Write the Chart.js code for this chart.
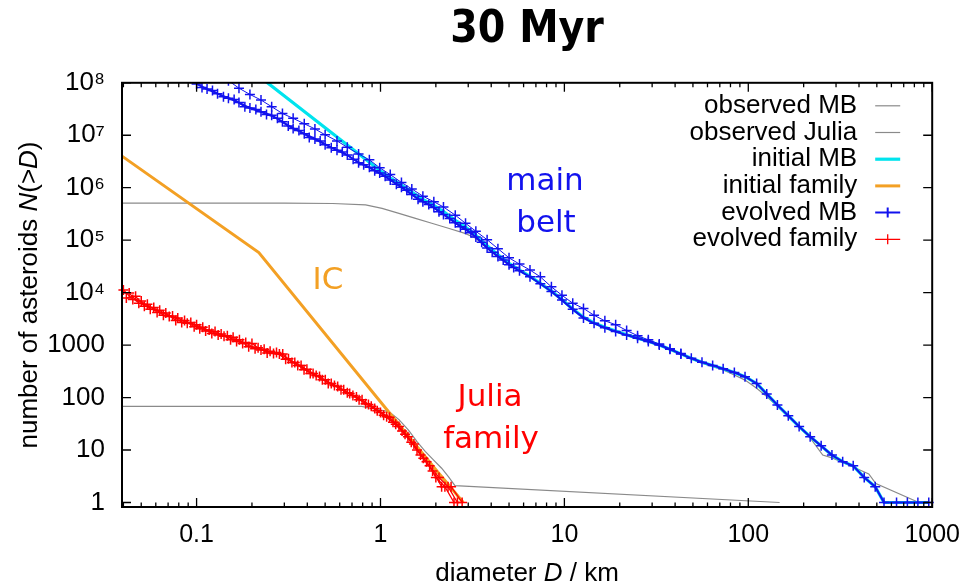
<!DOCTYPE html>
<html>
<head>
  <title>30 Myr - size distribution</title>
  <script src="https://cdn.jsdelivr.net/npm/chart.js"></script>
  <style>
    body { margin: 0; background: white; overflow: hidden; }
    #wrap { position: relative; width: 973px; height: 587px; }
  </style>
</head>
<body>
<div id="wrap"><canvas id="sfd"></canvas></div>

<script>
// axis ticks
const xTickVals = [0.1, 1, 10, 100, 1000];
const xTickLabels = ['0.1', '1', '10', '100', '1000'];
const yTickVals = [1, 10, 100, 1000, 1e4, 1e5, 1e6, 1e7, 1e8];
const yTickLabels = ['1', '10', '100', '1000', '10⁴', '10⁵', '10⁶', '10⁷', '10⁸'];

// observed main belt, N(>D)
const obsMbD = [0.0393, 0.3, 0.55, 0.83, 1.02, 1.26, 1.55, 1.9, 2.34, 2.88, 3.3, 3.8, 4.35, 5.0, 5.7,
  6.5, 7.4, 8.5, 9.7, 11.1, 12.7, 14.5, 16.6, 19, 21.8, 25, 28.6, 32.8, 37.5, 43, 49, 56, 64, 73, 84,
  96, 111, 126, 144, 165, 189, 217, 254, 288, 385, 452, 494, 847];
const obsMbN = [5.1e5, 5.1e5, 5.0e5, 4.7e5, 4.05e5, 3.25e5, 2.6e5, 2.1e5, 1.69e5, 1.35e5, 1.09e5, 7.0e4, 4.8e4, 3.4e4, 2.6e4,
  2.0e4, 1.45e4, 1.03e4, 7100, 4700, 3300, 2600, 2120, 1800, 1530, 1330, 1150, 980, 810, 660, 540, 450, 390, 335, 270,
  215, 150, 105, 68, 43, 27, 17, 8, 7, 4.5, 3.5, 2.3, 1];

// observed Julia family
const obsJuliaD = [0.0393, 0.79, 1.0, 1.11, 1.26, 1.42, 1.58, 1.75, 1.94, 2.15, 2.34, 2.54, 148];
const obsJuliaN = [68, 68, 58, 54, 38, 24, 14.5, 9.4, 6.5, 4.5, 3.1, 2.1, 1];

// initial conditions
const initMbD = [0.2, 0.99, 1.13, 1.30, 1.48, 1.70, 1.95, 2.2, 2.55, 2.9, 3.3, 3.8, 4.35, 5.0, 5.7, 6.5, 7.4,
  8.5, 9.7, 11.1, 12.7, 14.5, 16.6, 19, 21.8, 25, 28.6, 32.8, 37.5, 43, 49, 56, 64, 73, 84, 96, 111, 126,
  144, 165, 189, 217, 249, 285, 326, 372, 427, 490, 547, 958];
const initMbN = [1.7e8, 2.15e6, 1.55e6, 1.12e6, 8.3e5, 6.0e5, 4.6e5, 3.5e5, 2.4e5, 1.78e5, 1.25e5, 7.8e4, 5.3e4, 3.6e4, 2.7e4, 2.05e4, 1.5e4,
  1.07e4, 7400, 4900, 3400, 2650, 2180, 1850, 1570, 1360, 1180, 1000, 830, 680, 560, 470, 410, 355, 300, 250, 186, 117,
  72, 45, 28, 18, 12, 8, 6, 5, 3, 2, 1, 1];
const initFamD = [0.0393, 0.218, 2.0, 2.45, 2.82];
const initFamN = [4.0e6, 5.8e4, 4.2, 1.8, 1];

// evolved main belt, three runs
const evoMbD = [0.10, 0.114, 0.13, 0.149, 0.17, 0.195, 0.224, 0.256, 0.293, 0.335, 0.385, 0.44, 0.50, 0.58, 0.66,
  0.76, 0.87, 0.99, 1.13, 1.30, 1.48, 1.70, 1.95, 2.2, 2.55, 2.9, 3.3, 3.8, 4.35, 5.0, 5.7, 6.5, 7.4, 8.5, 9.7,
  11.1, 12.7, 14.5, 16.6, 19, 21.8, 25, 28.6, 32.8, 37.5, 43, 49, 56, 64, 73, 84, 96, 111, 126, 144, 165, 189,
  217, 249, 285, 326, 372, 427, 490, 547, 640, 733, 836, 958];
const evoMbN = [9.5e7, 7.6e7, 6.2e7, 5.1e7, 4.2e7, 3.3e7, 2.8e7, 2.4e7, 1.8e7, 1.35e7, 1.07e7, 8.5e6, 6.6e6, 5.2e6, 4.2e6,
  3.0e6, 2.45e6, 1.9e6, 1.41e6, 1.02e6, 7.4e5, 5.4e5, 4.2e5, 3.1e5, 2.14e5, 1.62e5, 1.15e5, 7.1e4, 4.9e4, 3.4e4, 2.6e4, 2.0e4, 1.48e4, 1.05e4, 7200,
  4800, 3300, 2600, 2140, 1820, 1550, 1350, 1170, 1000, 830, 680, 560, 470, 410, 355, 300, 250, 186, 117, 72, 45, 28,
  18, 12, 8, 6, 5, 3, 2, 1, 1, 1, 1, 1];
const evoMbBD = [0.107, 0.122, 0.14, 0.16, 0.183, 0.21, 0.24, 0.275, 0.315, 0.36, 0.41, 0.47, 0.54, 0.62, 0.71,
  0.81, 0.93, 1.06, 1.22, 1.39, 1.6, 1.83, 2.08, 2.38, 2.72, 3.1, 3.55, 4.05, 4.65, 5.3];
const evoMbBN = [8.1e7, 7.1e7, 5.4e7, 4.8e7, 3.5e7, 3.1e7, 2.5e7, 2.1e7, 1.5e7, 1.23e7, 9.1e6, 7.8e6, 5.8e6, 4.8e6, 3.5e6,
  2.75e6, 2.1e6, 1.66e6, 1.17e6, 8.9e5, 6.0e5, 4.8e5, 3.5e5, 2.6e5, 1.8e5, 1.38e5, 9.1e4, 5.9e4, 4.2e4, 3.0e4];
const evoMbCD = [0.149, 0.17, 0.195, 0.224, 0.256, 0.293, 0.335, 0.385, 0.44, 0.50, 0.58, 0.66, 0.76, 0.87, 0.99,
  1.13, 1.30, 1.48, 1.70, 1.95, 2.2, 2.55, 2.9, 3.3, 3.8, 4.35, 5.0, 5.7, 6.5, 7.4, 8.5, 9.7, 11.1, 12.7, 14.5,
  16.6, 19, 21.8, 25, 28.6, 32.8, 37.5, 43];
const evoMbCN = [1.1e8, 7.9e7, 6.0e7, 4.7e7, 3.5e7, 2.6e7, 2.1e7, 1.66e7, 1.32e7, 1.02e7, 7.8e6, 5.9e6, 4.4e6, 3.4e6, 2.4e6,
  1.78e6, 1.26e6, 9.5e5, 6.9e5, 5.4e5, 4.3e5, 3.0e5, 2.1e5, 1.48e5, 1.02e5, 6.9e4, 4.6e4, 3.5e4, 2.7e4, 2.0e4, 1.29e4, 8900, 6300, 5000, 3700,
  2900, 2450, 1900, 1510, 1260, 1050, 850, 690];

// evolved Julia family, three runs
const famAD = [0.040, 0.045, 0.050, 0.056, 0.063, 0.071, 0.079, 0.089, 0.100, 0.112, 0.126, 0.141, 0.158, 0.178, 0.200,
  0.224, 0.251, 0.282, 0.316, 0.355, 0.398, 0.447, 0.501, 0.562, 0.631, 0.708, 0.794, 0.891, 1.00, 1.12, 1.26, 1.41,
  1.58, 1.78, 2.00, 2.24, 2.51];
const famAN = [11200, 7400, 6900, 4800, 4600, 3500, 3300, 2600, 2450, 1860, 1820, 1480, 1410, 1070, 1070,
  810, 760, 676, 550, 407, 347, 263, 219, 170, 141, 110, 91, 68, 52, 42, 28, 18,
  10, 6, 3, 2, 1];
const famBD = [0.0415, 0.0466, 0.052, 0.0585, 0.066, 0.074, 0.083, 0.093, 0.104, 0.117, 0.131, 0.147, 0.165, 0.185, 0.208,
  0.233, 0.262, 0.294, 0.33, 0.37, 0.415, 0.466, 0.52, 0.585, 0.66, 0.74, 0.83, 0.93, 1.04, 1.17, 1.31, 1.47,
  1.65, 1.85, 2.08, 2.33, 2.62];
const famBN = [7900, 8500, 5500, 5200, 3700, 3600, 2700, 2700, 2040, 1950, 1550, 1510, 1170, 1120, 850,
  830, 690, 676, 468, 407, 288, 251, 186, 162, 123, 102, 76, 62, 46, 34, 23, 14,
  8, 5, 3, 2, 1];
const famCD = [0.043, 0.0485, 0.054, 0.061, 0.068, 0.077, 0.086, 0.097, 0.108, 0.121, 0.136, 0.153, 0.171, 0.192, 0.216,
  0.242, 0.272, 0.305, 0.342, 0.384, 0.43, 0.483, 0.54, 0.61, 0.68, 0.765, 0.86, 0.96, 1.08, 1.21, 1.36, 1.52,
  1.71, 1.92, 2.15, 2.42, 2.78];
const famCN = [9800, 6300, 6000, 4200, 4100, 2950, 2950, 2240, 2190, 1660, 1620, 1260, 1260, 930, 890,
  710, 725, 537, 468, 339, 288, 219, 186, 141, 120, 91, 74, 56, 43, 31, 20, 13,
  7, 4, 2, 2, 1];

const GREY = '#8a8a8a', CYAN = '#00e4ee', ORANGE = '#f3a024', BLUE = '#1212ee', RED = '#ff0000';
const SANS = '"Liberation Sans", Arial, sans-serif';
const clipBox = { left: 6, top: 0, right: 6, bottom: 6 };

function pts(xs, ys) {
  return xs.map((x, i) => ({ x: x, y: ys[i] }));
}

function plain(label, xs, ys, color, width, order) {
  return { label, data: pts(xs, ys), borderColor: color, borderWidth: width,
    pointRadius: 0, order, clip: clipBox };
}

function marked(label, xs, ys, color, width, order) {
  return { label, data: pts(xs, ys), borderColor: color, borderWidth: width,
    pointStyle: 'cross', pointRadius: 5, pointBorderWidth: 1.5, pointBorderColor: color,
    order, clip: clipBox };
}

// inward ticks on all four sides plus the frame
const frame = {
  id: 'frame',
  afterDatasetsDraw(chart) {
    const { ctx, chartArea: a, scales: { x, y } } = chart;
    ctx.save();
    ctx.strokeStyle = '#000';
    ctx.lineWidth = 1.3;
    ctx.beginPath();
    xTickVals.forEach(v => {
      const px = x.getPixelForValue(v);
      ctx.moveTo(px, a.bottom); ctx.lineTo(px, a.bottom - 9);
      ctx.moveTo(px, a.top); ctx.lineTo(px, a.top + 9);
    });
    for (let d = 0.01; d < 1000; d *= 10) {
      for (let k = 2; k < 10; k++) {
        const v = k * d;
        if (v < x.min || v > x.max) continue;
        const px = x.getPixelForValue(v);
        ctx.moveTo(px, a.bottom); ctx.lineTo(px, a.bottom - 4.5);
        ctx.moveTo(px, a.top); ctx.lineTo(px, a.top + 4.5);
      }
    }
    yTickVals.forEach(v => {
      const py = y.getPixelForValue(v);
      ctx.moveTo(a.left, py); ctx.lineTo(a.left + 9, py);
      ctx.moveTo(a.right, py); ctx.lineTo(a.right - 9, py);
    });
    ctx.stroke();
    ctx.lineWidth = 2;
    ctx.strokeRect(a.left, a.top, a.right - a.left, a.bottom - a.top);
    ctx.restore();
  }
};

function drawMixed(ctx, parts, cx, cy) {
  const fonts = parts.map(p => (p[1] ? 'italic ' : '') + '26px ' + SANS);
  let total = 0;
  const widths = parts.map((p, i) => {
    ctx.font = fonts[i];
    const w = ctx.measureText(p[0]).width;
    total += w;
    return w;
  });
  let xx = cx - total / 2;
  parts.forEach((p, i) => {
    ctx.font = fonts[i];
    ctx.fillText(p[0], xx, cy);
    xx += widths[i];
  });
}

// axis titles, key and the labels inside the plot
const texts = {
  id: 'texts',
  afterDraw(chart) {
    const { ctx, chartArea: a } = chart;
    ctx.save();
    ctx.fillStyle = '#000';
    ctx.textAlign = 'left';
    ctx.textBaseline = 'alphabetic';
    drawMixed(ctx, [['diameter ', false], ['D', true], [' / km', false]], (a.left + a.right) / 2, 581);
    ctx.save();
    ctx.translate(37, 295);
    ctx.rotate(-Math.PI / 2);
    drawMixed(ctx, [['number of asteroids ', false], ['N', true], ['(>', false], ['D', true], [')', false]], 0, 0);
    ctx.restore();

    // key, gnuplot style: text right-aligned, sample on the right
    ctx.font = '26px ' + SANS;
    ctx.textAlign = 'right';
    ctx.textBaseline = 'middle';
    let row = 0;
    chart.data.datasets.forEach(ds => {
      if (!ds.label) return;
      const ky = a.top + 23 + row * 26.7;
      const x0 = a.right - 57, x1 = a.right - 32;
      ctx.fillStyle = '#000';
      ctx.fillText(ds.label, a.right - 75, ky);
      ctx.strokeStyle = ds.borderColor;
      ctx.lineWidth = ds.borderWidth;
      ctx.beginPath();
      ctx.moveTo(x0, ky); ctx.lineTo(x1, ky);
      if (ds.pointRadius) {
        const cx = (x0 + x1) / 2, r = ds.pointRadius;
        ctx.moveTo(cx, ky - r); ctx.lineTo(cx, ky + r);
      }
      ctx.stroke();
      row++;
    });

    ctx.font = '31px "DejaVu Sans", sans-serif';
    ctx.textAlign = 'center';
    ctx.textBaseline = 'alphabetic';
    ctx.fillStyle = BLUE;
    ctx.fillText('main', 545, 190);
    ctx.fillText('belt', 546, 232);
    ctx.fillStyle = ORANGE;
    ctx.fillText('IC', 328, 289);
    ctx.fillStyle = RED;
    ctx.fillText('Julia', 490, 406);
    ctx.fillText('family', 491, 448);
    ctx.restore();
  }
};

new Chart(document.getElementById('sfd'), {
  type: 'line',
  data: {
    datasets: [
      plain('observed MB', obsMbD, obsMbN, GREY, 1.2, 9),
      plain('observed Julia', obsJuliaD, obsJuliaN, GREY, 1.2, 8),
      plain('initial MB', initMbD, initMbN, CYAN, 3.2, 7),
      plain('initial family', initFamD, initFamN, ORANGE, 3, 6),
      marked('evolved MB', evoMbD, evoMbN, BLUE, 2, 5),
      marked('evolved family', famAD, famAN, RED, 1.3, 1),
      marked('', evoMbBD, evoMbBN, BLUE, 1.5, 4),
      marked('', evoMbCD, evoMbCN, BLUE, 1, 3),
      marked('', famBD, famBN, RED, 1.3, 2),
      marked('', famCD, famCN, RED, 1.3, 2)
    ]
  },
  options: {
    responsive: true,
    maintainAspectRatio: false,
    animation: false,
    events: [],
    layout: { padding: { left: 0, right: 36, top: 0, bottom: 0 }, autoPadding: false },
    elements: { line: { tension: 0 } },
    plugins: {
      legend: { display: false },
      tooltip: { enabled: false },
      title: {
        display: true,
        text: '30 Myr',
        fullSize: false,
        color: '#000',
        font: { family: '"DejaVu Sans Condensed", "DejaVu Sans", sans-serif', size: 44, weight: 'bold' },
        padding: { top: 4, bottom: 26 }
      }
    },
    scales: {
      x: {
        type: 'logarithmic',
        min: 0.0393,
        max: 1000,
        afterFit: s => { s.height = 80; },
        afterBuildTicks: s => { s.ticks = xTickVals.map(v => ({ value: v })); },
        grid: { display: false, drawTicks: false },
        border: { display: false },
        ticks: {
          autoSkip: false, maxRotation: 0, padding: 13, color: '#000',
          font: { family: SANS, size: 25 },
          callback: (v, i) => xTickLabels[i]
        }
      },
      y: {
        type: 'logarithmic',
        min: 0.82,
        max: 1e8,
        afterFit: s => { s.width = 122; },
        afterBuildTicks: s => { s.ticks = yTickVals.map(v => ({ value: v })); },
        grid: { display: false, drawTicks: false },
        border: { display: false },
        ticks: {
          autoSkip: false, padding: 17, color: '#000',
          font: { family: SANS, size: 26 },
          callback: (v, i) => yTickLabels[i]
        }
      }
    }
  },
  plugins: [frame, texts]
});
</script>
</body>
</html>
